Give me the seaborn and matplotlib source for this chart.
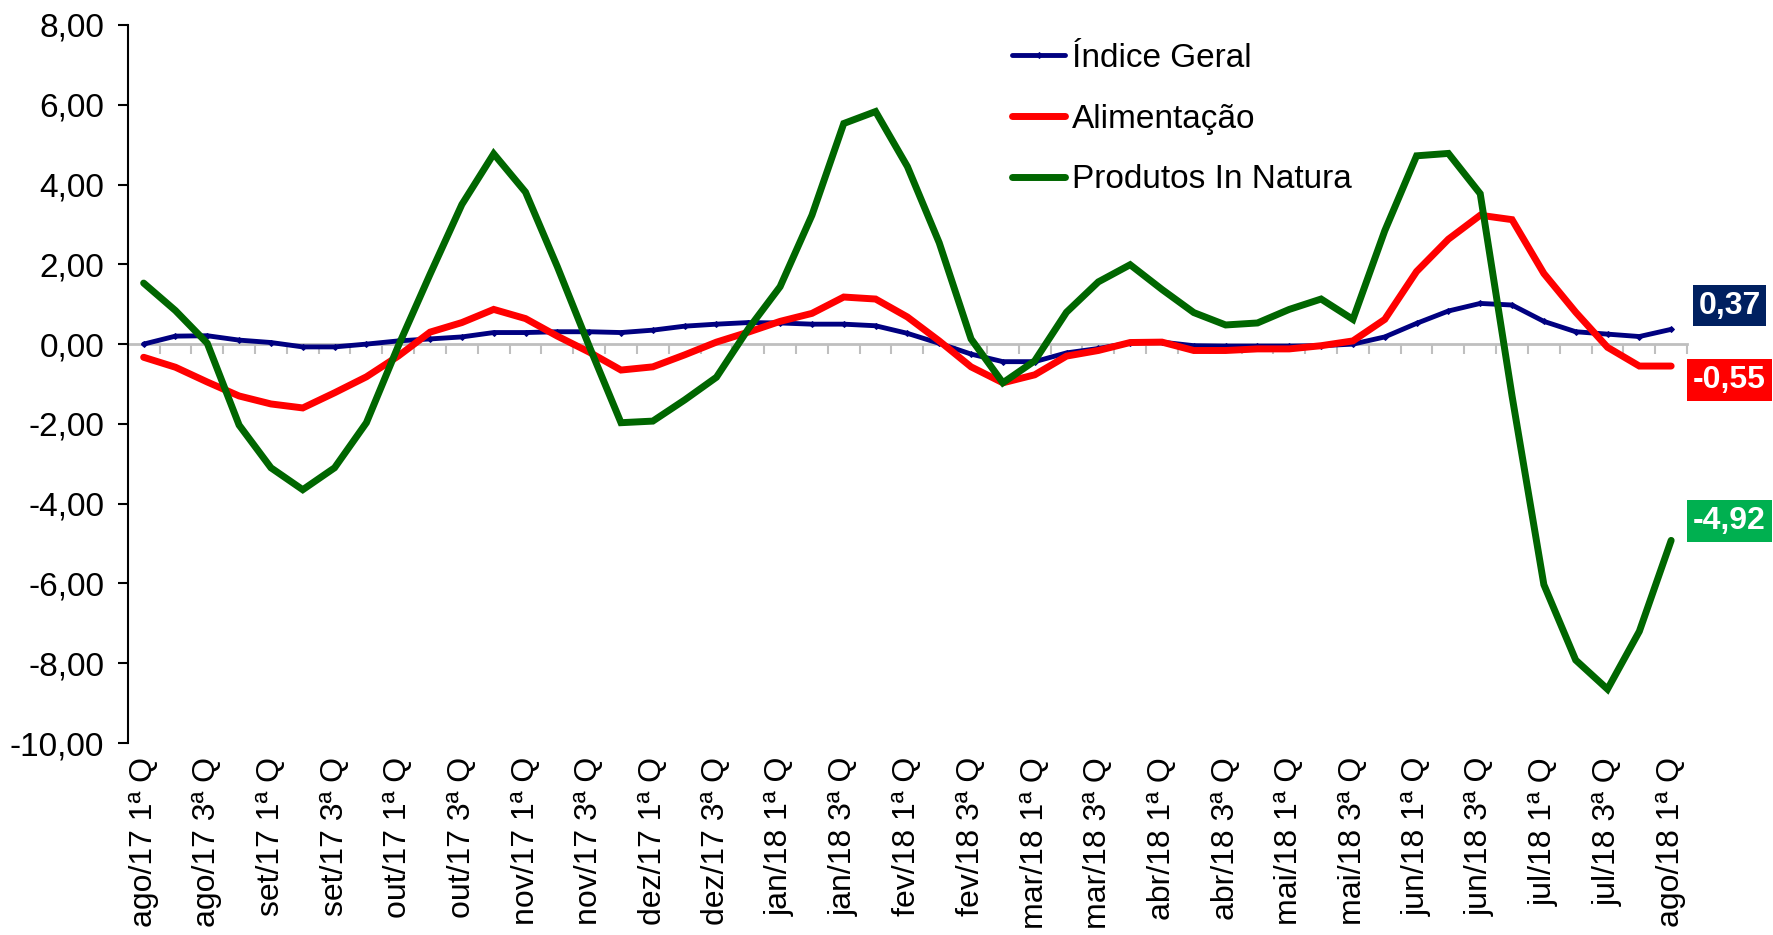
import numpy as np
import pandas as pd
import matplotlib
matplotlib.use("Agg")
import matplotlib.pyplot as plt
import seaborn as sns

# ---------------- data ----------------
meses = ["ago/17", "set/17", "out/17", "nov/17", "dez/17", "jan/18", "fev/18",
         "mar/18", "abr/18", "mai/18", "jun/18", "jul/18", "ago/18"]
quadrissemanas = ["1ª Q", "2ª Q", "3ª Q", "4ª Q"]
categorias = [f"{m} {q}" for m in meses[:-1] for q in quadrissemanas] + [f"{meses[-1]} {quadrissemanas[0]}"]

indice_geral = [0.00, 0.20, 0.21, 0.10, 0.04, -0.07, -0.07, 0.00, 0.08, 0.13,
                0.18, 0.29, 0.29, 0.31, 0.31, 0.29, 0.35, 0.45, 0.50, 0.54,
                0.53, 0.50, 0.50, 0.46, 0.27, 0.02, -0.25, -0.44, -0.44, -0.22,
                -0.11, 0.03, 0.05, -0.04, -0.05, -0.05, -0.05, -0.04, 0.00, 0.18,
                0.52, 0.83, 1.02, 0.98, 0.57, 0.31, 0.25, 0.19, 0.37]

alimentacao = [-0.33, -0.58, -0.95, -1.30, -1.50, -1.60, -1.22, -0.82, -0.30, 0.30,
               0.54, 0.87, 0.64, 0.20, -0.20, -0.65, -0.57, -0.27, 0.05, 0.30,
               0.57, 0.77, 1.18, 1.13, 0.68, 0.08, -0.57, -0.97, -0.77, -0.30,
               -0.16, 0.04, 0.05, -0.16, -0.16, -0.12, -0.12, -0.04, 0.08, 0.62,
               1.82, 2.63, 3.23, 3.12, 1.77, 0.80, -0.08, -0.55, -0.55]

in_natura = [1.53, 0.84, 0.02, -2.03, -3.10, -3.65, -3.10, -1.97, -0.05, 1.75,
             3.50, 4.77, 3.81, 1.94, -0.05, -1.97, -1.93, -1.40, -0.83, 0.38,
             1.44, 3.23, 5.53, 5.83, 4.45, 2.54, 0.13, -0.97, -0.42, 0.80,
             1.56, 1.99, 1.37, 0.79, 0.48, 0.53, 0.87, 1.13, 0.62, 2.84,
             4.72, 4.78, 3.77, -1.30, -6.03, -7.92, -8.65, -7.20, -4.92]

series_nomes = ["Índice Geral", "Alimentação", "Produtos In Natura"]
cores = ["#000080", "#FF0000", "#006600"]
cores_rotulo = ["#002060", "#FF0000", "#00B050"]
larguras = [3.5, 5.0, 5.0]
deslocamentos_rotulo = [17, -10, 14]

y_ticks = [-10, -8, -6, -4, -2, 0, 2, 4, 6, 8]

# ---------------- figure ----------------
sns.set_theme(style="white")
plt.rcParams["font.family"] = ["Liberation Sans", "DejaVu Sans"]
plt.rcParams["text.color"] = "black"
plt.rcParams["xtick.color"] = "black"
plt.rcParams["ytick.color"] = "black"
plt.rcParams["axes.labelcolor"] = "black"

df = pd.DataFrame({
    "pos": np.arange(len(categorias)),
    "categoria": categorias,
    series_nomes[0]: indice_geral,
    series_nomes[1]: alimentacao,
    series_nomes[2]: in_natura,
})
longo = df.melt(id_vars=["pos", "categoria"], value_vars=series_nomes,
                var_name="serie", value_name="valor")

fig = plt.figure(figsize=(17.74, 9.35), dpi=100)
ax = fig.add_axes([0.072, 0.2053, 0.879, 0.768])

ax.set_xlim(-0.5, len(categorias) - 0.5)
ax.set_ylim(min(y_ticks), max(y_ticks))

# gray category axis through zero with tick marks between categories
y0_frac = (0 - min(y_ticks)) / (max(y_ticks) - min(y_ticks))
sec = ax.secondary_xaxis(y0_frac)
sec.set_xticks(np.arange(len(categorias) + 1) - 0.5)
sec.set_xticklabels([])
sec.tick_params(axis="x", direction="in", length=7, width=1.5, color="#BFBFBF")
for sp in sec.spines.values():
    sp.set_color("#BFBFBF")
    sp.set_linewidth(2)

for nome, cor, lw in zip(series_nomes, cores, larguras):
    sub = longo[longo["serie"] == nome]
    kw = (dict(marker="D", markersize=3, markeredgecolor=cor, markerfacecolor=cor)
          if nome == series_nomes[0] else {})
    sns.lineplot(data=sub, x="pos", y="valor", color=cor, linewidth=lw, ax=ax,
                 label=nome, solid_capstyle="round", solid_joinstyle="miter", **kw)

# value labels at last point
for nome, cor, dy in zip(series_nomes, cores_rotulo, deslocamentos_rotulo):
    v = df[nome].iloc[-1]
    ax.annotate(f"{v:.2f}".replace(".", ","), xy=(df["pos"].iloc[-1], v),
                xytext=(42, dy), textcoords="offset points", ha="center", va="center",
                color="white", fontweight="bold", fontsize=23, annotation_clip=False,
                bbox=dict(boxstyle="square,pad=0.18", fc=cor, ec="none"))

# axes styling
ax.set_yticks(y_ticks)
ax.set_yticklabels([f"{v:.2f}".replace(".", ",") for v in y_ticks], fontsize=24)
ax.set_xticks(df["pos"].iloc[::2])
ax.set_xticklabels(df["categoria"].iloc[::2], rotation=90, fontsize=23)
ax.tick_params(axis="x", length=0, pad=10, labelcolor="black")
ax.tick_params(axis="y", direction="out", length=7, width=1.5, color="black", pad=10,
               left=True, labelcolor="black")
ax.set_xlabel("")
ax.set_ylabel("")
for s in ["top", "right", "bottom"]:
    ax.spines[s].set_visible(False)
ax.spines["left"].set_color("black")
ax.spines["left"].set_linewidth(1.5)
ax.grid(False)

leg = ax.legend(loc="upper left", bbox_to_anchor=(0.567, 0.975), frameon=False, fontsize=24,
                handlelength=1.6, handletextpad=0.2, labelspacing=0.89, borderpad=0,
                borderaxespad=0)
for t in leg.get_texts():
    t.set_color("black")

fig.savefig("out.png", dpi=100)
